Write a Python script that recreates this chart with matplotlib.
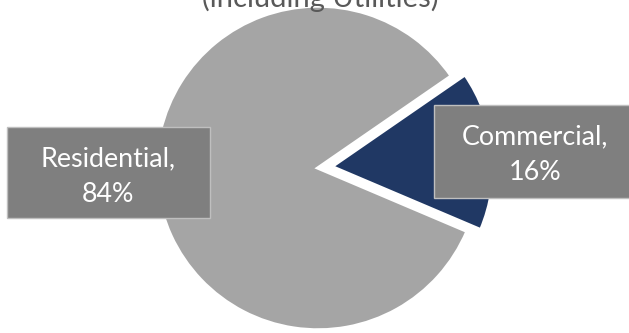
import matplotlib
matplotlib.use("Agg")
import matplotlib.pyplot as plt
from matplotlib.patches import Rectangle

# Share of electricity use by sector
categories = ["Residential", "Commercial"]
shares = [84, 16]
colors = ["#A5A5A5", "#203864"]
title_text = "(including Utilities)"

W, H, DPI = 629, 333, 100
fig = plt.figure(figsize=(W / DPI, H / DPI), dpi=DPI)
ax = fig.add_axes([0, 0, 1, 1])
ax.axis("off")

# pixel geometry of the pie
cx, cy, rpx = 318, 168, 162


def px(x, y):
    """Convert figure pixel position (top-left origin) to data units."""
    return (x - cx) / rpx, (cy - y) / rpx


ax.pie(shares, colors=colors, startangle=-23, counterclock=False,
       explode=[0, 0.085], radius=1, center=(0, 0),
       wedgeprops=dict(edgecolor="white", linewidth=2.5))

ax.set_xlim((0 - cx) / rpx, (W - cx) / rpx)
ax.set_ylim((cy - H) / rpx, cy / rpx)
ax.set_aspect("auto")

font = ["Lato", "DejaVu Sans"]

# data label boxes: left, top, right, bottom, text centre x, second baseline y
boxes = {
    "Residential": (7, 127, 210, 218, 108, 202),
    "Commercial": (434, 105, 640, 198, 535, 180),
}
for name, val in zip(categories, shares):
    x0, y0, x1, y1, xc, yb = boxes[name]
    (dx0, dy1), (dx1, dy0) = px(x0, y0), px(x1, y1)
    ax.add_patch(Rectangle((dx0, dy0), dx1 - dx0, dy1 - dy0,
                           facecolor="#7F7F7F", edgecolor="#BFBFBF",
                           linewidth=1, zorder=5))
    tx, ty = px(xc, yb)
    ax.text(tx, ty, f"{name},\n{val}%", ha="center", va="baseline",
            color="white", fontsize=19.4, family=font, linespacing=1.55,
            zorder=6)

tx, ty = px(320, 7)
ax.text(tx, ty, title_text, ha="center", va="baseline", color="#595959",
        fontsize=21, family=font)

fig.savefig("out.png", dpi=DPI)
